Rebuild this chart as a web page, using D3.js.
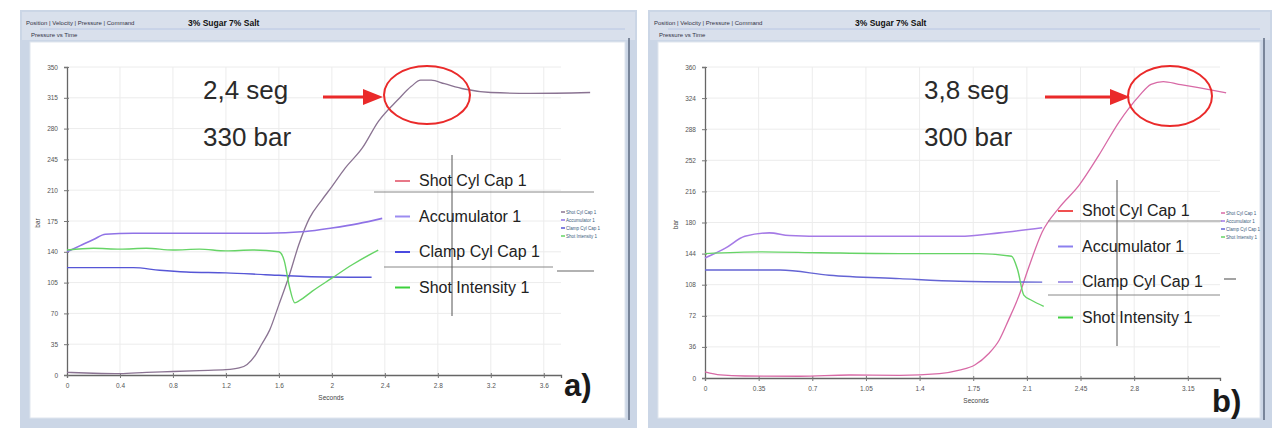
<!DOCTYPE html>
<html>
<head>
<meta charset="utf-8">
<script src="https://cdn.jsdelivr.net/npm/d3@7"></script>
<style>
  html, body { margin: 0; padding: 0; background: #ffffff; }
  svg { display: block; }
  text { font-family: "Liberation Sans", Arial, sans-serif; }
</style>
</head>
<body>
<svg id="chart" width="1275" height="429"></svg>
<script>
// ---- Run a) : pressure vs time ----
const aXTicks = [0, 0.4, 0.8, 1.2, 1.6, 2, 2.4, 2.8, 3.2, 3.6];
const aYTicks = [0, 35, 70, 105, 140, 175, 210, 245, 280, 315, 350];
const aShotCyl = [[0,3],[0.2,2],[0.4,1.5],[0.6,3],[0.8,4],[1.0,5],[1.2,6],[1.3,8],[1.36,12],[1.42,22],[1.47,35],[1.53,51],[1.6,80],[1.68,114],[1.75,148],[1.83,178],[1.92,198],[2.0,214],[2.1,235],[2.23,258],[2.35,288],[2.5,313],[2.6,328],[2.67,335],[2.75,335],[2.85,331],[3.0,325],[3.2,321],[3.5,320],[3.95,321]];
const aAccum = [[0,140],[0.1,147],[0.2,154],[0.29,160],[0.5,161],[1.0,161],[1.5,161],[1.8,163],[2.0,167],[2.2,172],[2.38,178]];
const aClamp = [[0,122],[0.5,122],[0.7,119],[0.9,117],[1.2,116],[1.5,114],[1.8,112],[2.3,111]];
const aIntensity = [[0,142],[0.2,144],[0.4,143],[0.6,144],[0.8,142],[1.0,143],[1.2,141],[1.4,142],[1.6,140],[1.64,130],[1.68,100],[1.72,82],[1.76,85],[1.85,95],[2.0,110],[2.15,125],[2.3,138],[2.35,142]];

// ---- Run b) : pressure vs time ----
const bXTicks = [0, 0.35, 0.7, 1.05, 1.4, 1.75, 2.1, 2.45, 2.8, 3.15];
const bYTicks = [0, 36, 72, 108, 144, 180, 216, 252, 288, 324, 360];
const bShotCyl = [[0,7],[0.1,3.5],[0.26,2.3],[0.62,2],[0.94,3.5],[1.27,3],[1.53,5],[1.66,9],[1.76,15],[1.85,28],[1.92,44],[1.98,67],[2.05,96],[2.11,127],[2.2,169],[2.31,197],[2.44,223],[2.57,258],[2.7,296],[2.83,326],[2.91,340],[2.99,343],[3.09,340],[3.22,336],[3.4,330]];
const bAccum = [[0,139],[0.13,150],[0.26,164],[0.42,168],[0.55,165],[0.81,164],[1.27,164],[1.66,164],[1.92,168],[2.2,174]];
const bClamp = [[0,125],[0.49,125],[0.81,119],[1.27,115],[1.66,112],[2.2,111]];
const bIntensity = [[0,144],[0.36,146],[0.75,145],[1.27,144],[1.79,144],[2.0,141],[2.04,125],[2.08,96],[2.13,90],[2.21,83]];

const legendNames = ["Shot Cyl Cap 1", "Accumulator 1", "Clamp Cyl Cap 1", "Shot Intensity 1"];
const tabNames = "Position | Velocity | Pressure | Command";
const windowTitle = "3% Sugar 7% Salt";
const subTab = "Pressure vs Time";

const svg = d3.select("#chart");

function drawPanel(cfg) {
  const g = svg.append("g");
  const f = cfg.frame;

  // window frame
  g.append("rect").attr("x", f.x).attr("y", f.y).attr("width", f.w).attr("height", f.h)
    .attr("fill", "#cbd6e6");
  g.append("rect").attr("x", f.x + 2).attr("y", f.y + 2).attr("width", f.w - 4).attr("height", 28)
    .attr("fill", "#d9e0ec");
  g.append("line").attr("x1", f.x + 20).attr("x2", f.x + f.w - 12)
    .attr("y1", f.y + 19).attr("y2", f.y + 19).attr("stroke", "#b8c6e4").attr("stroke-width", 1);
  // white client area
  g.append("rect").attr("x", f.x + 10).attr("y", f.y + 32).attr("width", f.w - 22).attr("height", f.h - 42)
    .attr("fill", "#ffffff").attr("stroke", "#dfe5ee");
  g.append("line").attr("x1", f.x + f.w - 8).attr("x2", f.x + f.w - 8)
    .attr("y1", f.y + 28).attr("y2", f.y + f.h - 8).attr("stroke", "#5d6a80").attr("stroke-width", 1.5);

  g.append("text").attr("x", f.x + 6).attr("y", f.y + 15).attr("font-size", 6).attr("fill", "#334")
    .text(tabNames);
  g.append("text").attr("x", cfg.titleX).attr("y", f.y + 16).attr("font-size", 8.5).attr("font-weight", "bold")
    .attr("fill", "#111").text(windowTitle);
  g.append("text").attr("x", f.x + 11).attr("y", f.y + 27).attr("font-size", 6).attr("fill", "#334")
    .text(subTab);

  const x = d3.scaleLinear().domain([0, cfg.xMax]).range(cfg.xRange);
  const y = d3.scaleLinear().domain([0, cfg.yMax]).range(cfg.yRange);

  // grid
  const grid = g.append("g").attr("stroke", "#ececec").attr("stroke-width", 1);
  grid.selectAll("line.h").data(cfg.yTicks.slice(1)).join("line")
    .attr("x1", x(0)).attr("x2", x(cfg.xMax)).attr("y1", d => y(d)).attr("y2", d => y(d));
  grid.selectAll("line.v").data(cfg.xTicks.slice(1)).join("line")
    .attr("y1", y(0)).attr("y2", y(cfg.yMax)).attr("x1", d => x(d)).attr("x2", d => x(d));

  // axes
  const xAxis = d3.axisBottom(x).tickValues(cfg.xTicks).tickSize(3).tickPadding(5)
    .tickFormat(d => d3.format("~g")(d));
  const yAxis = d3.axisLeft(y).tickValues(cfg.yTicks).tickSize(3).tickPadding(6)
    .tickFormat(d => d);
  const gx = g.append("g").attr("transform", `translate(0,${y(0)})`).call(xAxis);
  const gy = g.append("g").attr("transform", `translate(${x(0)},0)`).call(yAxis);
  [gx, gy].forEach(ax => {
    ax.select(".domain").attr("stroke", "#666").attr("stroke-width", 1.3);
    ax.selectAll(".tick line").attr("stroke", "#777");
    ax.selectAll(".tick text").attr("font-size", 6.5).attr("fill", "#555")
      .attr("font-family", "Liberation Sans, Arial, sans-serif");
  });
  gx.selectAll(".tick line").attr("y1", -2);
  gy.selectAll(".tick line").attr("x1", 2);

  g.append("text").attr("transform", `translate(${x(0) - 27},${(y(0) + y(cfg.yMax)) / 2 + 2}) rotate(-90)`)
    .attr("text-anchor", "middle").attr("font-size", 6.5).attr("fill", "#444").text("bar");
  g.append("text").attr("x", cfg.xLabelX).attr("y", y(0) + 25).attr("text-anchor", "middle")
    .attr("font-size", 6.5).attr("fill", "#444").text("Seconds");

  // series
  const line = d3.line().x(d => x(d[0])).y(d => y(d[1])).curve(d3.curveMonotoneX);
  cfg.series.forEach(s => {
    g.append("path").datum(s.data).attr("fill", "none").attr("stroke", s.color)
      .attr("stroke-width", s.width || 1.3).attr("stroke-linejoin", "round").attr("d", line);
  });

  // overlay legend
  const L = cfg.legend;
  g.append("line").attr("x1", L.sep1[0]).attr("x2", L.sep1[1]).attr("y1", L.sep1[2]).attr("y2", L.sep1[2])
    .attr("stroke", "#888").attr("stroke-width", 1);
  g.append("line").attr("x1", L.sep2[0]).attr("x2", L.sep2[1]).attr("y1", L.sep2[2]).attr("y2", L.sep2[2])
    .attr("stroke", "#888").attr("stroke-width", 1);
  g.append("line").attr("x1", L.vline[0]).attr("x2", L.vline[0]).attr("y1", L.vline[1]).attr("y2", L.vline[2])
    .attr("stroke", "#555").attr("stroke-width", 1);
  const items = g.selectAll("g.leg").data(legendNames).join("g")
    .attr("transform", (d, i) => `translate(${L.x},${L.y + i * L.step})`);
  items.append("line").attr("x1", 0).attr("x2", 15).attr("y1", -5).attr("y2", -5)
    .attr("stroke", (d, i) => L.colors[i]).attr("stroke-width", 2);
  items.append("text").attr("x", 24).attr("y", 0).attr("font-size", 16).attr("fill", "#222").text(d => d);

  // small built-in legend
  const m = cfg.mini;
  const minis = g.selectAll("g.mini").data(legendNames).join("g")
    .attr("transform", (d, i) => `translate(${m.x},${m.y + i * 8})`);
  minis.append("line").attr("x1", 0).attr("x2", 4).attr("y1", -2).attr("y2", -2)
    .attr("stroke", (d, i) => cfg.series[i].color).attr("stroke-width", 1.5);
  minis.append("text").attr("x", 5).attr("y", 0).attr("font-size", 4.5).attr("fill", "#3a5a7a").text(d => d);
  g.append("line").attr("x1", m.dash[0]).attr("x2", m.dash[1]).attr("y1", m.dash[2]).attr("y2", m.dash[2])
    .attr("stroke", "#666").attr("stroke-width", 1.2);

  // annotation
  const A = cfg.note;
  g.append("text").attr("x", A.x).attr("y", A.y).attr("font-size", 26)
    .attr("font-family", "DejaVu Sans, Verdana, sans-serif").attr("fill", "#2a2a2a").text(A.time);
  g.append("text").attr("x", A.x).attr("y", A.y + 47).attr("font-size", 26)
    .attr("font-family", "DejaVu Sans, Verdana, sans-serif").attr("fill", "#2a2a2a").text(A.press);
  g.append("line").attr("x1", A.arrow[0]).attr("x2", A.arrow[1] - 16).attr("y1", A.arrow[2]).attr("y2", A.arrow[2])
    .attr("stroke", "#ea2a2a").attr("stroke-width", 3);
  g.append("path")
    .attr("d", `M${A.arrow[1]},${A.arrow[2]} L${A.arrow[1] - 20},${A.arrow[2] - 8} L${A.arrow[1] - 20},${A.arrow[2] + 8} Z`)
    .attr("fill", "#ea2a2a");
  g.append("ellipse").attr("cx", A.ell[0]).attr("cy", A.ell[1]).attr("rx", A.ell[2]).attr("ry", A.ell[3])
    .attr("fill", "none").attr("stroke", "#ea2a2a").attr("stroke-width", 2);

  g.append("text").attr("x", cfg.tag[0]).attr("y", cfg.tag[1]).attr("font-size", 31).attr("font-weight", "bold")
    .attr("fill", "#1a1a1a").text(cfg.tag[2]);
}

drawPanel({
  frame: { x: 20, y: 10, w: 617, h: 418 },
  titleX: 188,
  xMax: 3.73, xRange: [67, 561], yMax: 350, yRange: [375, 67],
  xTicks: aXTicks, yTicks: aYTicks, xLabelX: 331,
  series: [
    { data: aShotCyl, color: "#8a7392", width: 1.3 },
    { data: aAccum, color: "#8f72e6", width: 1.6 },
    { data: aClamp, color: "#5656d6", width: 1.4 },
    { data: aIntensity, color: "#66d466", width: 1.4 }
  ],
  legend: { x: 395, y: 186, step: 35.5, colors: ["#e87888", "#9c8cf0", "#4a4ae0", "#3cd03c"],
            sep1: [374, 594, 192], sep2: [384, 553, 267], vline: [452, 155, 316] },
  mini: { x: 561, y: 214, dash: [557, 594, 271] },
  note: { x: 203, y: 99, time: "2,4 seg", press: "330 bar", arrow: [323, 383, 97], ell: [427, 95, 43, 29] },
  tag: [564, 396, "a)"]
});

drawPanel({
  frame: { x: 648, y: 10, w: 624, h: 418 },
  titleX: 855,
  xMax: 3.36, xRange: [705, 1220], yMax: 360, yRange: [378, 67],
  xTicks: bXTicks, yTicks: bYTicks, xLabelX: 976,
  series: [
    { data: bShotCyl, color: "#d86aa6", width: 1.3 },
    { data: bAccum, color: "#a57ae6", width: 1.6 },
    { data: bClamp, color: "#6464d4", width: 1.4 },
    { data: bIntensity, color: "#66d466", width: 1.4 }
  ],
  legend: { x: 1058, y: 216, step: 35.5, colors: ["#f05050", "#8c80ee", "#a89ae8", "#44d044"],
            sep1: [1048, 1222, 221], sep2: [1048, 1220, 295], vline: [1117, 180, 346] },
  mini: { x: 1221, y: 215, dash: [1224, 1236, 279] },
  note: { x: 924, y: 99, time: "3,8 seg", press: "300 bar", arrow: [1045, 1130, 97], ell: [1170, 96, 42, 30] },
  tag: [1212, 412, "b)"]
});
</script>
</body>
</html>
